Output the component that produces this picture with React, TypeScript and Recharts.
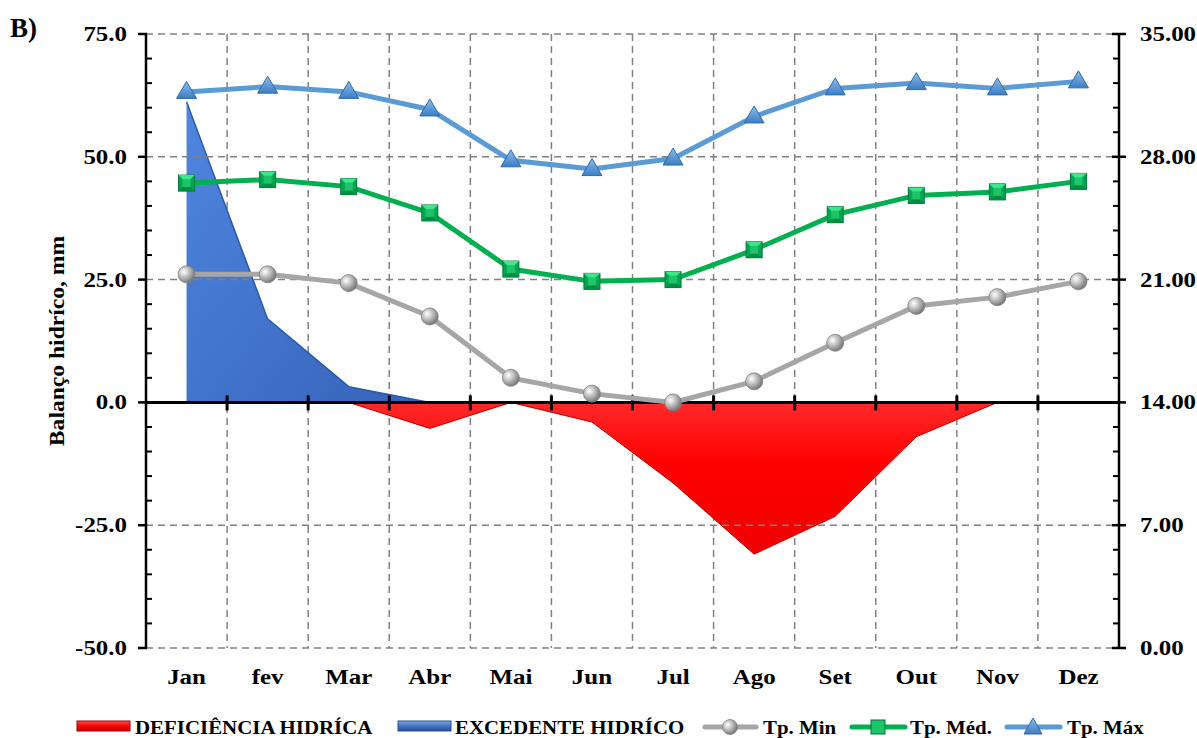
import React from 'react';
import { ComposedChart, Area, Line, XAxis, YAxis, CartesianGrid, ReferenceLine, Legend } from 'recharts';

const months = ['Jan', 'fev', 'Mar', 'Abr', 'Mai', 'Jun', 'Jul', 'Ago', 'Set', 'Out', 'Nov', 'Dez'];
const excedente = [61.2, 17.0, 3.2, 0, null, null, null, null, null, null, null, null];
const deficiencia = [null, null, 0, -5.3, 0, -4.0, -16.4, -30.9, -23.2, -7.0, 0, null];
const tpMin = [21.3, 21.3, 20.8, 18.9, 15.4, 14.5, 14.0, 15.2, 17.4, 19.5, 20.0, 20.9];
const tpMed = [26.5, 26.7, 26.3, 24.8, 21.6, 20.9, 21.0, 22.7, 24.7, 25.8, 26.0, 26.6];
const tpMax = [31.7, 32.0, 31.7, 30.7, 27.8, 27.3, 27.9, 30.3, 31.9, 32.2, 31.9, 32.3];

const leftTicks = [-50, -45, -40, -35, -30, -25, -20, -15, -10, -5, 0, 5, 10, 15, 20, 25, 30, 35, 40, 45, 50, 55, 60, 65, 70, 75];
const leftLabels = [-50, -25, 0, 25, 50, 75];
const rightTicks = [0, 1.4, 2.8, 4.2, 5.6, 7, 8.4, 9.8, 11.2, 12.6, 14, 15.4, 16.8, 18.2, 19.6, 21, 22.4, 23.8, 25.2, 26.6, 28, 29.4, 30.8, 32.2, 33.6, 35];
const rightLabels = [0, 7, 14, 21, 28, 35];

const data = months.map((m, i) => ({
  month: m,
  exc: excedente[i],
  def: deficiencia[i],
  min: tpMin[i],
  med: tpMed[i],
  max: tpMax[i],
}));

const FONT = '"Liberation Serif", "Times New Roman", serif';
const SX = 1.16;

const LeftTick = (p: any) => {
  const { x, y, payload } = p;
  const major = leftLabels.includes(payload.value);
  return (
    <g>
      {major ? (
        <line x1={x - 8} x2={x + 1} y1={y} y2={y} stroke="#000" strokeWidth={2.5} />
      ) : (
        <line x1={x} x2={x + 6} y1={y} y2={y} stroke="#000" strokeWidth={2} />
      )}
      {major && (
        <text transform={`translate(${x - 19},${y + 7}) scale(${SX} 1)`} textAnchor="end" fontFamily={FONT} fontWeight="bold" fontSize={21.5} fill="#000">
          {payload.value.toFixed(1)}
        </text>
      )}
    </g>
  );
};

const RightTick = (p: any) => {
  const { x, y, payload } = p;
  const major = rightLabels.some((v) => Math.abs(v - payload.value) < 1e-6);
  return (
    <g>
      {major ? (
        <line x1={x - 7} x2={x + 7} y1={y} y2={y} stroke="#000" strokeWidth={2.5} />
      ) : (
        <line x1={x - 6} x2={x} y1={y} y2={y} stroke="#000" strokeWidth={2} />
      )}
      {major && (
        <text transform={`translate(${x + 21},${y + 7}) scale(${SX} 1)`} textAnchor="start" fontFamily={FONT} fontWeight="bold" fontSize={21.5} fill="#000">
          {Number(payload.value).toFixed(2)}
        </text>
      )}
    </g>
  );
};

const MonthTick = (p: any) => {
  const { x, y, payload } = p;
  return (
    <text transform={`translate(${x},${y + 36}) scale(${SX} 1)`} textAnchor="middle" fontFamily={FONT} fontWeight="bold" fontSize={21.5} fill="#000">
      {payload.value}
    </text>
  );
};

const ZeroAxis = (p: any) => {
  const { x1, x2, y1 } = p;
  if (x1 == null) return null;
  const step = (x2 - x1) / months.length;
  return (
    <g>
      <line x1={x1} x2={x2} y1={y1} y2={y1} stroke="#000" strokeWidth={3} />
      {months.slice(1).map((m, i) => (
        <line key={m} x1={x1 + (i + 1) * step} x2={x1 + (i + 1) * step} y1={y1 - 7} y2={y1 + 8} stroke="#000" strokeWidth={3} />
      ))}
    </g>
  );
};

const SphereDot = (p: any) => {
  const { cx, cy } = p;
  if (cx == null || cy == null) return <g />;
  return <circle cx={cx} cy={cy} r={8.5} fill="url(#gSphere)" stroke="#808080" strokeWidth={0.8} />;
};

const SquareDot = (p: any) => {
  const { cx, cy } = p;
  if (cx == null || cy == null) return <g />;
  return (
    <g>
      <rect x={cx - 8} y={cy - 8} width={16} height={16} fill="#00A650" stroke="#00753A" strokeWidth={1} />
      <polygon points={`${cx - 8},${cy - 8} ${cx + 8},${cy - 8} ${cx},${cy}`} fill="#3DE88A" />
      <polygon points={`${cx - 8},${cy + 8} ${cx + 8},${cy + 8} ${cx},${cy}`} fill="#008C42" />
      <rect x={cx - 4} y={cy - 4} width={8} height={8} fill="#1FC46A" />
    </g>
  );
};

const TriangleDot = (p: any) => {
  const { cx, cy } = p;
  if (cx == null || cy == null) return <g />;
  return (
    <polygon points={`${cx},${cy - 10.5} ${cx + 10},${cy + 6.5} ${cx - 10},${cy + 6.5}`} fill="url(#gTri)" stroke="#2F6AAB" strokeWidth={1} />
  );
};

const LSX = 1.1;

const LegendText = ({ x, children }: { x: number; children: string }) => (
  <text transform={`translate(${x},34) scale(${LSX} 1)`} fontFamily={FONT} fontWeight="bold" fontSize={19} fill="#000">
    {children}
  </text>
);

const LegendLine = ({ x, w, color, children }: { x: number; w: number; color: string; children: React.ReactNode }) => (
  <g>
    <line x1={x + 2} x2={x + w - 2} y1={27} y2={27} stroke={color} strokeWidth={5} strokeLinecap="round" />
    {children}
  </g>
);

const renderLegend = () => (
  <svg width={1197} height={38} style={{ display: 'block' }}>
    <defs>
      <linearGradient id="lgRed" x1="0" y1="0" x2="0" y2="1">
        <stop offset="0%" stopColor="#FF5050" />
        <stop offset="50%" stopColor="#FF0000" />
        <stop offset="100%" stopColor="#B00000" />
      </linearGradient>
      <linearGradient id="lgBlue" x1="0" y1="0" x2="0" y2="1">
        <stop offset="0%" stopColor="#7FA8EA" />
        <stop offset="50%" stopColor="#4472C4" />
        <stop offset="100%" stopColor="#2A4F95" />
      </linearGradient>
    </defs>
    <rect x={77} y={21} width={53} height={10} fill="url(#lgRed)" stroke="#A00000" strokeWidth={1} />
    <LegendText x={135}>DEFICIÊNCIA HIDRÍCA</LegendText>
    <rect x={398} y={21} width={53} height={10} fill="url(#lgBlue)" stroke="#2A4F95" strokeWidth={1} />
    <LegendText x={455}>EXCEDENTE HIDRÍCO</LegendText>
    <LegendLine x={703} w={55} color="#A6A6A6">
      <circle cx={730} cy={27} r={7.5} fill="url(#gSphere)" stroke="#808080" strokeWidth={0.8} />
    </LegendLine>
    <LegendText x={763}>Tp. Min</LegendText>
    <LegendLine x={850} w={57} color="#00B050">
      <rect x={871} y={20} width={14} height={14} fill="#1FC46A" stroke="#00753A" strokeWidth={1} />
    </LegendLine>
    <LegendText x={910}>Tp. Méd.</LegendText>
    <LegendLine x={1005} w={57} color="#5B9BD5">
      <polygon points="1033,18 1042,34 1024,34" fill="url(#gTri)" stroke="#2F6AAB" strokeWidth={1} />
    </LegendLine>
    <LegendText x={1067}>Tp. Máx</LegendText>
  </svg>
);

export default function App() {
  return (
    <div style={{ position: 'absolute', left: 0, top: 0, width: 1197, height: 738, background: '#fff' }}>
      <svg width={60} height={50} style={{ position: 'absolute', left: 0, top: 0 }}>
        <text x={10} y={37} fontFamily={FONT} fontWeight="bold" fontSize={27} fill="#000">B)</text>
      </svg>
      <ComposedChart width={1197} height={738} data={data} margin={{ top: 34, right: 8, left: 86, bottom: 45 }}>
        <defs>
          <linearGradient id="gBlue" x1="0" y1="0" x2="1" y2="1">
            <stop offset="0%" stopColor="#4F86E0" />
            <stop offset="100%" stopColor="#3563B8" />
          </linearGradient>
          <linearGradient id="gRed" x1="0" y1="0" x2="0" y2="1">
            <stop offset="0%" stopColor="#FF2A2A" />
            <stop offset="40%" stopColor="#FF0000" />
            <stop offset="100%" stopColor="#F00000" />
          </linearGradient>
          <radialGradient id="gSphere" cx="35%" cy="35%" r="65%">
            <stop offset="0%" stopColor="#FFFFFF" />
            <stop offset="50%" stopColor="#BDBDBD" />
            <stop offset="100%" stopColor="#7A7A7A" />
          </radialGradient>
          <linearGradient id="gTri" x1="0" y1="0" x2="0" y2="1">
            <stop offset="0%" stopColor="#8DBDEB" />
            <stop offset="100%" stopColor="#3C7DC4" />
          </linearGradient>
        </defs>
        <CartesianGrid
          horizontal={false}
          stroke="#808080"
          strokeDasharray="7 5"
          strokeWidth={1.5}
          verticalCoordinatesGenerator={({ offset }: any) =>
            months.slice(1).map((_, i) => offset.left + ((i + 1) * offset.width) / months.length)
          }
        />
        <XAxis dataKey="month" scale="band" interval={0} axisLine={false} tickLine={false} tickSize={0} tickMargin={0} height={45} tick={<MonthTick />} />
        <YAxis
          yAxisId="left"
          domain={[-50, 75]}
          ticks={leftTicks}
          interval={0}
          width={60}
          axisLine={{ stroke: '#000', strokeWidth: 2.5 }}
          tickLine={false}
          tickSize={0}
          tickMargin={0}
          tick={<LeftTick />}
          label={{
            content: ({ viewBox }: any) => {
              const cx = viewBox.x + viewBox.width - 88;
              const cy = viewBox.y + viewBox.height / 2;
              return (
                <text transform={`translate(${cx},${cy}) rotate(-90) scale(1.18 1)`} textAnchor="middle" dominantBaseline="central" fontFamily={FONT} fontWeight="bold" fontSize={20} fill="#000">
                  Balanço hidríco, mm
                </text>
              );
            },
          }}
        />
        <YAxis
          yAxisId="right"
          orientation="right"
          domain={[0, 35]}
          ticks={rightTicks}
          interval={0}
          width={70}
          axisLine={{ stroke: '#000', strokeWidth: 2.5 }}
          tickLine={false}
          tickSize={0}
          tickMargin={0}
          tick={<RightTick />}
        />
        {[75, 50, 25, -25, -50].map((v) => (
          <ReferenceLine key={v} yAxisId="left" y={v} stroke="#808080" strokeDasharray="7 5" strokeWidth={1.5} />
        ))}
        <Area yAxisId="left" type="linear" dataKey="def" baseValue={0} fill="url(#gRed)" stroke="#C00000" strokeWidth={1} fillOpacity={1} isAnimationActive={false} legendType="none" />
        <Area yAxisId="left" type="linear" dataKey="exc" baseValue={0} fill="url(#gBlue)" stroke="#2A5AA8" strokeWidth={1.5} fillOpacity={1} isAnimationActive={false} legendType="none" />
        <ReferenceLine yAxisId="left" y={0} shape={<ZeroAxis />} />
        <Line yAxisId="right" type="linear" dataKey="min" stroke="#A6A6A6" strokeWidth={5} dot={<SphereDot />} activeDot={false} isAnimationActive={false} />
        <Line yAxisId="right" type="linear" dataKey="med" stroke="#00B050" strokeWidth={5} dot={<SquareDot />} activeDot={false} isAnimationActive={false} />
        <Line yAxisId="right" type="linear" dataKey="max" stroke="#5B9BD5" strokeWidth={5} dot={<TriangleDot />} activeDot={false} isAnimationActive={false} />
        <Legend verticalAlign="middle" align="center" layout="horizontal" content={renderLegend} wrapperStyle={{ position: 'absolute', left: 0, top: 700, width: 1197, height: 38 }} />
      </ComposedChart>
    </div>
  );
}
